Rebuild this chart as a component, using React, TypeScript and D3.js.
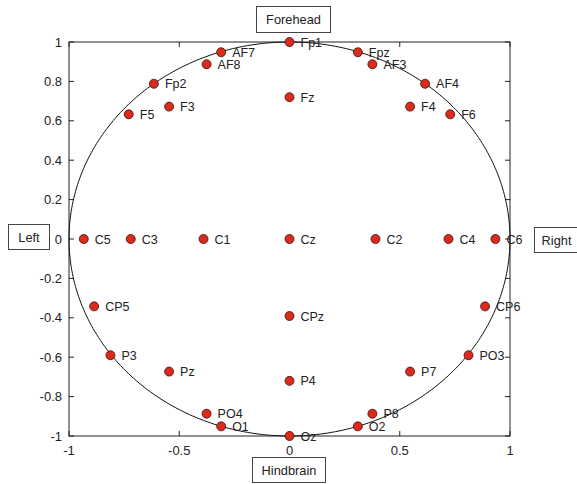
import React from "react";
import * as d3 from "d3";

const labels = ["Fp1","Fpz","AF3","AF4","F4","F6","AF7","AF8","Fp2","F3","F5","Fz","C5","C3","C1","Cz","C2","C4","C6","CP5","CP6","CPz","P3","PO3","Pz","P7","P4","PO4","P8","O1","O2","Oz"];
const xs = [0,0.31,0.376,0.615,0.547,0.729,-0.31,-0.376,-0.615,-0.546,-0.729,0,-0.933,-0.72,-0.39,0,0.39,0.721,0.934,-0.886,0.887,0,-0.812,0.812,-0.546,0.547,0,-0.376,0.376,-0.31,0.31,0];
const ys = [1,0.948,0.887,0.788,0.672,0.633,0.948,0.887,0.788,0.672,0.633,0.72,0,0,0,0,0,0,0,-0.342,-0.342,-0.391,-0.59,-0.59,-0.673,-0.673,-0.72,-0.887,-0.887,-0.951,-0.951,-1];
const xTicks = [-1,-0.5,0,0.5,1];
const yTicks = [1,0.8,0.6,0.4,0.2,0,-0.2,-0.4,-0.6,-0.8,-1];
const boxes = [
  { text: "Forehead", x: 256, y: 6, w: 74, h: 26 },
  { text: "Left", x: 8, y: 224, w: 41, h: 25 },
  { text: "Right", x: 534, y: 227, w: 44, h: 25 },
  { text: "Hindbrain", x: 252, y: 457, w: 73, h: 25 },
];

export default function App() {
  const L = 69, R = 510, T = 42, B = 436;
  const x = d3.scaleLinear().domain([-1, 1]).range([L, R]);
  const y = d3.scaleLinear().domain([-1, 1]).range([B, T]);
  const circle = d3.range(0, 361).map((d) => [Math.cos((d * Math.PI) / 180), Math.sin((d * Math.PI) / 180)] as [number, number]);
  const line = d3.line<[number, number]>().x((d) => x(d[0])).y((d) => y(d[1]));
  const font = "'Liberation Sans', Arial, Helvetica, sans-serif";
  const tl = 5;
  return (
    <svg width={577} height={484} style={{ position: "absolute", left: 0, top: 0 }} fontFamily={font}>
      <rect x={0} y={0} width={577} height={484} fill="#fff" />
      <rect x={L} y={T} width={R - L} height={B - T} fill="none" stroke="#222" strokeWidth={1} />
      {xTicks.map((t) => (
        <g key={"x" + t}>
          <line x1={x(t)} x2={x(t)} y1={B} y2={B - tl} stroke="#222" />
          <line x1={x(t)} x2={x(t)} y1={T} y2={T + tl} stroke="#222" />
          <text x={x(t)} y={B + 19} textAnchor="middle" fontSize={13} fill="#222">{t}</text>
        </g>
      ))}
      {yTicks.map((t) => (
        <g key={"y" + t}>
          <line x1={L} x2={L + tl} y1={y(t)} y2={y(t)} stroke="#222" />
          <line x1={R} x2={R - tl} y1={y(t)} y2={y(t)} stroke="#222" />
          <text x={L - 7} y={y(t) + 4.5} textAnchor="end" fontSize={13} fill="#222">{t}</text>
        </g>
      ))}
      <path d={line(circle) || ""} fill="none" stroke="#111" strokeWidth={1} />
      {labels.map((lab, i) => (
        <g key={lab}>
          <circle cx={x(xs[i])} cy={y(ys[i])} r={4.5} fill="#dc2a1c" stroke="#3a1010" strokeWidth={0.8} />
          <text x={x(xs[i]) + 11} y={y(ys[i]) + 4.5} fontSize={12.5} fill="#222">{lab}</text>
        </g>
      ))}
      {boxes.map((b) => (
        <g key={b.text}>
          <rect x={b.x + 0.5} y={b.y + 0.5} width={b.w} height={b.h} fill="#fff" stroke="#444" strokeWidth={1} />
          <text x={b.x + b.w / 2 + 0.5} y={b.y + b.h / 2 + 5} textAnchor="middle" fontSize={12.8} fill="#222">{b.text}</text>
        </g>
      ))}
    </svg>
  );
}
